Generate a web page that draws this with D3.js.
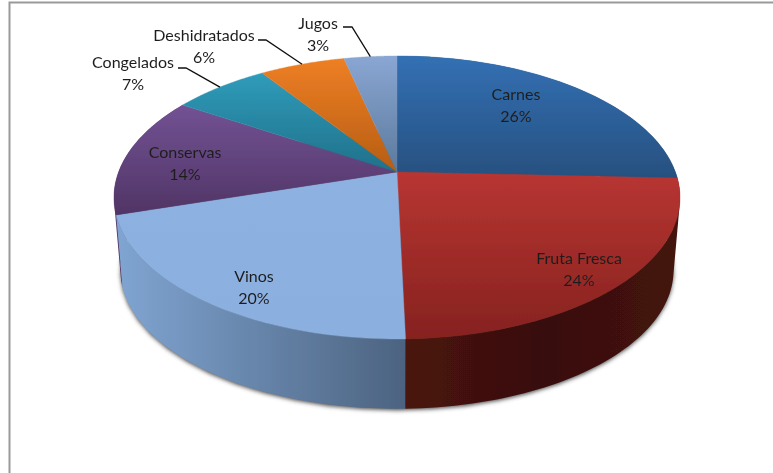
<!DOCTYPE html>
<html><head><meta charset="utf-8">
<style>html,body{margin:0;padding:0;background:#fff;overflow:hidden}svg{display:block}text{font-family:Lato,"Open Sans",sans-serif;font-size:16px;fill:#1f1f1f}</style>
<script src="https://cdnjs.cloudflare.com/ajax/libs/d3/7.8.5/d3.min.js"></script>
</head><body><svg id="c" width="773" height="473"></svg>
<script>
const categories = ["Carnes","Fruta Fresca","Vinos","Conservas","Congelados","Deshidratados","Jugos"];
const values = [25.7,23.9,20.6,13.8,6.6,5.8,3.6];
const percentLabels = ["26%","24%","20%","14%","7%","6%","3%"];
const topColors = [["#3270b4","#27507f"],["#b83532","#86221f"],["#8db2e2","#8bafdf"],["#735294","#503465"],["#2f9cba","#20708a"],["#ee7f24","#b65d14"],["#8aa6d3","#5b7a9c"]];
const sideColors = [["#27507f","#27507f"],["#4b1310","#380f0d","#441310"],["#80a5d2","#4c6380"],["#503465","#503465"],["#20708a","#20708a"],["#b65d14","#b65d14"],["#5b7a9c","#5b7a9c"]];
const labelCenters = [[516,94],[579,258],[254,276],[185,152],[133,62],[204,35],[318,23]];
const leaderStarts = {4:[178,68,186],5:[258,40,266],6:[343,27,352]};

const svg = d3.select("#c");
const defs = svg.append("defs");
defs.append("filter").attr("id","shadow").attr("x","-10%").attr("y","-10%").attr("width","120%").attr("height","120%")
  .append("feGaussianBlur").attr("stdDeviation",2);
defs.append("filter").attr("id","soft").attr("x","-5%").attr("y","-5%").attr("width","110%").attr("height","110%")
  .append("feGaussianBlur").attr("stdDeviation",0.45);

// frame
svg.append("path").attr("d","M9.5,473V2.5H773").attr("fill","none").attr("stroke","#9a9a9a").attr("stroke-width",2);

// perspective projection of the pie disc
const hubX=397, hubY=172, K=0.18, A=278.4, B=136.9;
function project(t, layer){
  const u=Math.sin(t), v=-Math.cos(t), w=1-K*v;
  const s = layer? 0.977:1, y0 = layer? 245.6:hubY;
  return [hubX + s*A*u/w, y0 + s*B*v/w];
}
const pie = d3.pie().sort(null).value(d=>d)(values);
const line = d3.line();
function arcPts(a0,a1,layer){ return d3.range(0,61).map(i=>project(a0+(a1-a0)*i/60,layer)); }

const topStops = pie.map(p=>d3.extent(arcPts(p.startAngle,p.endAngle,0).map(d=>d[1]).concat([hubY])));
topColors.forEach((c,i)=>{
  const g=defs.append("linearGradient").attr("id","top"+i).attr("gradientUnits","userSpaceOnUse")
    .attr("x1",0).attr("x2",0).attr("y1",topStops[i][0]).attr("y2",topStops[i][1]);
  c.forEach((col,k)=>g.append("stop").attr("offset",k/(c.length-1)).attr("stop-color",col));
});
sideColors.forEach((c,i)=>{
  const xs=d3.extent(arcPts(pie[i].startAngle,pie[i].endAngle,0),d=>d[0]);
  const g=defs.append("linearGradient").attr("id","side"+i).attr("gradientUnits","userSpaceOnUse")
    .attr("y1",0).attr("y2",0).attr("x1",xs[0]).attr("x2",xs[1]);
  c.forEach((col,k)=>g.append("stop").attr("offset",k/(c.length-1)).attr("stop-color",col));
});

const pieG = svg.append("g").attr("filter","url(#soft)");
// drop shadow of the base
pieG.append("path").attr("d",line(arcPts(0,2*Math.PI,1))+"Z").attr("fill","#4a4a4a").attr("filter","url(#shadow)").attr("transform","translate(0,1.5)");
// sides, back to front: swept strips, all wound the same way so none cancels
function strip(q){ return d3.polygonArea(q)<0 ? q.slice().reverse() : q; }
[0,3,2,1].forEach(i=>{
  const p=pie[i], a=arcPts(p.startAngle,p.endAngle,0), b=arcPts(p.startAngle,p.endAngle,1);
  const strips=d3.range(a.length-1).map(j=>line(strip([a[j],a[j+1],b[j+1],b[j]]))+"Z").join("");
  pieG.append("path").attr("d",strips).attr("fill",`url(#side${i})`);
});
// top faces
pie.forEach((p,i)=>{
  pieG.append("path").attr("d",line([[hubX,hubY]].concat(arcPts(p.startAngle,p.endAngle,0)))+"Z")
    .attr("fill",`url(#top${i})`).attr("stroke",`url(#top${i})`).attr("stroke-width",0.4);
});
// leaders
const textG = svg.append("g").attr("filter","url(#soft)");
Object.keys(leaderStarts).forEach(k=>{
  const p=pie[k], s=leaderStarts[k], e=project((p.startAngle+p.endAngle)/2,0);
  textG.append("path").attr("d",line([[s[0],s[1]],[s[2],s[1]],e])).attr("fill","none").attr("stroke","#111").attr("stroke-width",1.3);
});
// labels
categories.forEach((c,i)=>{
  const [x,y]=labelCenters[i];
  textG.append("text").attr("x",x).attr("y",y+5.5).attr("text-anchor","middle").text(c);
  textG.append("text").attr("x",x).attr("y",y+28).attr("text-anchor","middle").text(percentLabels[i]);
});
</script></body></html>
